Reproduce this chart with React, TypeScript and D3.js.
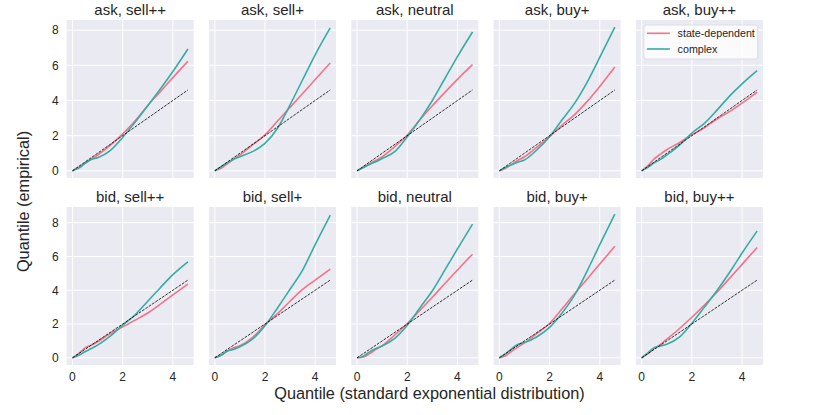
import * as d3 from "d3";

// quantile grid of the standard exponential distribution (x axis)
const quantX = [0, 0.25, 0.5, 0.75, 1, 1.5, 2, 2.5, 3, 3.5, 4, 4.6];

const panelTitles = [
  "ask, sell++", "ask, sell+", "ask, neutral", "ask, buy+", "ask, buy++",
  "bid, sell++", "bid, sell+", "bid, neutral", "bid, buy+", "bid, buy++",
];

// empirical quantiles, state-dependent model
const stateDependentY = [
  [0, 0.2, 0.44, 0.67, 0.9, 1.45, 2.1, 2.85, 3.72, 4.5, 5.3, 6.23],
  [0, 0.15, 0.4, 0.65, 0.9, 1.47, 2.04, 2.83, 3.61, 4.4, 5.19, 6.13],
  [0, 0.2, 0.4, 0.6, 0.8, 1.38, 2.04, 2.9, 3.7, 4.46, 5.2, 6.04],
  [0, 0.15, 0.38, 0.6, 0.8, 1.35, 1.94, 2.6, 3.2, 3.95, 4.8, 5.9],
  [0, 0.3, 0.68, 0.95, 1.2, 1.6, 2.05, 2.45, 2.95, 3.37, 3.85, 4.48],
  [0, 0.26, 0.59, 0.75, 0.95, 1.44, 1.83, 2.23, 2.65, 3.18, 3.72, 4.36],
  [0, 0.15, 0.4, 0.6, 0.72, 1.2, 1.95, 2.62, 3.35, 4.05, 4.6, 5.25],
  [0, 0.05, 0.25, 0.5, 0.72, 1.35, 2.03, 2.8, 3.58, 4.4, 5.2, 6.13],
  [0, 0.12, 0.4, 0.65, 0.88, 1.45, 2.03, 2.9, 3.8, 4.67, 5.55, 6.6],
  [0, 0.25, 0.55, 0.8, 1.1, 1.72, 2.4, 3.12, 3.88, 4.7, 5.53, 6.53],
];

// empirical quantiles, complex model
const complexY = [
  [0, 0.15, 0.42, 0.64, 0.74, 1.15, 1.9, 2.78, 3.7, 4.65, 5.65, 6.93],
  [0, 0.22, 0.46, 0.65, 0.8, 1.09, 1.56, 2.42, 3.75, 5.18, 6.6, 8.13],
  [0, 0.18, 0.36, 0.52, 0.7, 1.09, 1.94, 2.9, 4.0, 5.25, 6.5, 7.9],
  [0, 0.2, 0.35, 0.5, 0.62, 1.2, 1.94, 2.9, 3.85, 5.05, 6.45, 8.17],
  [0, 0.2, 0.45, 0.65, 0.9, 1.45, 2.15, 2.7, 3.45, 4.25, 4.95, 5.7],
  [0, 0.15, 0.36, 0.55, 0.75, 1.28, 1.93, 2.55, 3.35, 4.15, 4.92, 5.68],
  [0, 0.15, 0.4, 0.5, 0.65, 1.1, 1.9, 2.95, 4.06, 5.19, 6.7, 8.44],
  [0, 0.1, 0.35, 0.55, 0.7, 1.15, 1.93, 2.95, 3.97, 5.2, 6.45, 7.91],
  [0, 0.25, 0.55, 0.8, 0.9, 1.25, 1.8, 2.65, 3.72, 5.15, 6.7, 8.5],
  [0, 0.3, 0.6, 0.7, 0.8, 1.22, 2.05, 3.0, 3.98, 5.05, 6.2, 7.5],
];

const xTicks = [0, 2, 4];
const yTicks = [0, 2, 4, 6, 8];
const seriesNames = ["state-dependent", "complex"];
const seriesColors = ["#f77189", "#36ada4"];

export default function App() {
  const width = 830;
  const height = 415;
  const panelW = 127;
  const panelH = 158;
  const colLeft = (c: number) => 66.7 + c * 142.3;
  const rowTop = [20, 207];
  const font = "'Liberation Sans', Arial, sans-serif";
  const textColor = "#262626";

  const x = d3.scaleLinear()
    .domain([-0.05 * 4.6, 4.6 * 1.05])
    .range([0, panelW]);

  // y range per row: data range with matplotlib's 5% margin
  const rowScale = (r: number) => {
    const vals = [...stateDependentY, ...complexY]
      .filter((_, i) => Math.floor((i % 10) / 5) === r)
      .flat();
    const [lo, hi] = d3.extent(vals) as [number, number];
    const pad = (hi - lo) * 0.05;
    return d3.scaleLinear().domain([lo - pad, hi + pad]).range([panelH, 0]);
  };
  const yScales = [rowScale(0), rowScale(1)];

  return (
    <svg
      width={width}
      height={height}
      style={{ position: "absolute", left: 0, top: 0, background: "#fff" }}
      fontFamily={font}
    >
      {panelTitles.map((title, i) => {
        const r = Math.floor(i / 5);
        const c = i % 5;
        const y = yScales[r];
        const line = d3.line<number>()
          .x((_, k) => x(quantX[k]))
          .y(d => y(d))
          .curve(d3.curveMonotoneX);
        const diag = d3.line<number>().x(d => x(d)).y(d => y(d));
        return (
          <g key={title} transform={`translate(${colLeft(c)},${rowTop[r]})`}>
            <rect width={panelW} height={panelH} fill="#eaeaf2" />
            {xTicks.map(t => (
              <line key={"gx" + t} x1={x(t)} x2={x(t)} y1={0} y2={panelH}
                stroke="#fff" strokeWidth={1} />
            ))}
            {yTicks.map(t => (
              <line key={"gy" + t} x1={0} x2={panelW} y1={y(t)} y2={y(t)}
                stroke="#fff" strokeWidth={1} />
            ))}
            <path d={line(stateDependentY[i]) ?? ""} fill="none"
              stroke={seriesColors[0]} strokeWidth={1.6} />
            <path d={line(complexY[i]) ?? ""} fill="none"
              stroke={seriesColors[1]} strokeWidth={1.6} />
            <path d={diag([0, 4.6]) ?? ""} fill="none" stroke="#000"
              strokeWidth={0.8} strokeDasharray="2.8,1.2" />
            <text x={panelW / 2} y={-5} textAnchor="middle" fontSize={15}
              fill={textColor}>{title}</text>
            {c === 0 && yTicks.map(t => (
              <text key={"ty" + t} x={-8} y={y(t)} dy="0.36em" textAnchor="end"
                fontSize={12} fill={textColor}>{t}</text>
            ))}
            {r === 1 && xTicks.map(t => (
              <text key={"tx" + t} x={x(t)} y={panelH + 15.5} textAnchor="middle"
                fontSize={12} fill={textColor}>{t}</text>
            ))}
            {i === 4 && (
              <g transform="translate(8,5)">
                <rect width={113.7} height={34} rx={2.5} fill="#fff"
                  fillOpacity={0.8} stroke="#d8d8e0" strokeWidth={0.8} />
                {seriesNames.map((name, k) => (
                  <g key={name} transform={`translate(0,${8.3 + k * 15.7})`}>
                    <line x1={3} x2={26} y1={0} y2={0}
                      stroke={seriesColors[k]} strokeWidth={1.6} />
                    <text x={33.7} y={0} dy="0.35em" fontSize={10.7}
                      fill={textColor}>{name}</text>
                  </g>
                ))}
              </g>
            )}
          </g>
        );
      })}
      <text x={429.5} y={398.5} textAnchor="middle" fontSize={16.3}
        fill={textColor}>Quantile (standard exponential distribution)</text>
      <text transform={`translate(29,201.5) rotate(-90)`} textAnchor="middle"
        fontSize={16.3} fill={textColor}>Quantile (empirical)</text>
    </svg>
  );
}
